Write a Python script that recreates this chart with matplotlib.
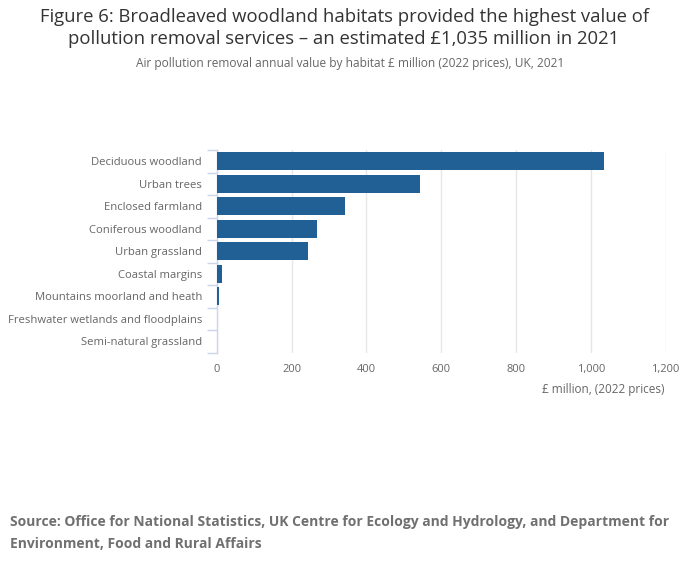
import numpy as np
import matplotlib.pyplot as plt

plt.rcParams['font.family'] = ['Open Sans', 'DejaVu Sans']

# habitats and air pollution removal value, £ million (2022 prices), 2021
habitats = ["Deciduous woodland", "Urban trees", "Enclosed farmland",
            "Coniferous woodland", "Urban grassland", "Coastal margins",
            "Mountains moorland and heath", "Freshwater wetlands and floodplains",
            "Semi-natural grassland"]
values = [1035, 544, 343, 268, 244, 14, 6, 0.3, 0.1]
x_ticks = [0, 200, 400, 600, 800, 1000, 1200]

W, H = 700, 574
fig = plt.figure(figsize=(W / 100, H / 100), dpi=100)

# axes placed in pixel coords
left, right, top, bottom = 216.7, 665.7, 150, 352.5
ax = fig.add_axes([left / W, 1 - bottom / H, (right - left) / W, (bottom - top) / H])

pos = np.arange(len(habitats))
ax.barh(pos, values, height=0.81, color="#206095", zorder=3)

ax.set_xlim(0, 1200)
ax.set_ylim(len(habitats) - 0.5, -0.5)
ax.set_xticks(x_ticks)
ax.set_xticklabels(["{:,}".format(v) for v in x_ticks])
ax.set_yticks(pos)
ax.set_yticklabels(habitats)
ax.set_yticks(np.arange(-0.5, len(habitats)), minor=True)

ax.grid(axis="x", color="#e6e6e6", linewidth=1, zorder=0)
for s in ["top", "right", "bottom"]:
    ax.spines[s].set_visible(False)
ax.spines["left"].set_color("#ccd6eb")
ax.spines["left"].set_linewidth(1)

ax.tick_params(axis="y", which="major", length=0, pad=10.5, labelsize=8.1, labelcolor="#666666")
ax.tick_params(axis="y", which="minor", length=7.2, width=1, color="#ccd6eb")
ax.tick_params(axis="x", length=0, pad=8, labelsize=8, labelcolor="#666666")

fig.text(665 / W, 1 - 389 / H, "£ million, (2022 prices)", ha="right", va="center",
         fontsize=8.5, color="#666666")

# titles
fig.text(344 / W, 1 - 17 / H, "Figure 6: Broadleaved woodland habitats provided the highest value of",
         ha="center", va="center", fontsize=13.3, color="#333333")
fig.text(344 / W, 1 - 39 / H, "pollution removal services – an estimated £1,035 million in 2021",
         ha="center", va="center", fontsize=13.3, color="#333333")
fig.text(350 / W, 1 - 64 / H, "Air pollution removal annual value by habitat £ million (2022 prices), UK, 2021",
         ha="center", va="center", fontsize=8.55, color="#666666")

# source
fig.text(10 / W, 1 - 522 / H, "Source: Office for National Statistics, UK Centre for Ecology and Hydrology, and Department for",
         ha="left", va="center", fontsize=10, fontweight="bold", color="#707070")
fig.text(10 / W, 1 - 544 / H, "Environment, Food and Rural Affairs",
         ha="left", va="center", fontsize=10, fontweight="bold", color="#707070")

fig.savefig("out.png", dpi=100)
